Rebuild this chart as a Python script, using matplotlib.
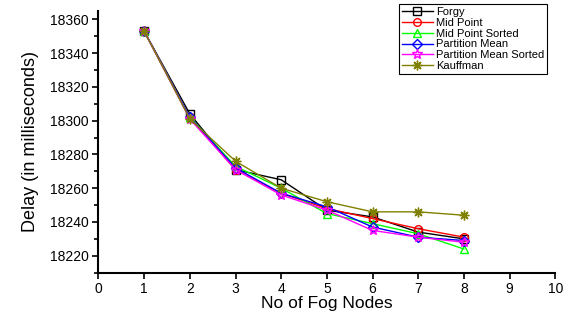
import matplotlib
matplotlib.use('Agg')
import matplotlib.pyplot as plt
from matplotlib.ticker import MultipleLocator

plt.rcParams['font.family'] = ['Liberation Sans', 'DejaVu Sans']

nodes = [1, 2, 3, 4, 5, 6, 7, 8]

forgy = [18353, 18304, 18271, 18265, 18247, 18243, 18234, 18230]
mid_point = [18353, 18302, 18271, 18257, 18248, 18242, 18236, 18231]
mid_point_sorted = [18353, 18302, 18273, 18260, 18245, 18239, 18233, 18224]
partition_mean = [18353, 18302, 18272, 18257, 18249, 18237, 18231, 18229]
partition_mean_sorted = [18353, 18301, 18271, 18256, 18247, 18235, 18231, 18228]
kauffman = [18353, 18301, 18276, 18260, 18252, 18246, 18246, 18244]

# name, values, colour, marker
series = [
    ('Forgy', forgy, 'black', 's'),
    ('Mid Point', mid_point, 'red', 'o'),
    ('Mid Point Sorted', mid_point_sorted, '#00ff00', '^'),
    ('Partition Mean', partition_mean, 'blue', 'D'),
    ('Partition Mean Sorted', partition_mean_sorted, 'magenta', '*'),
    ('Kauffman', kauffman, '#808000', (8, 2, 0)),
]

fig = plt.figure(figsize=(5.76, 3.23), dpi=100)
ax = fig.add_axes([0.171, 0.156, 0.793, 0.81])

for name, vals, col, mk in series:
    ms = 7 if mk == '*' or mk == (8, 2, 0) else 5.5
    if mk == 'D':
        ms = 5
    ax.plot(nodes, vals, color=col, marker=mk, markersize=ms, lw=1,
            markerfacecolor='none', markeredgecolor=col, markeredgewidth=1,
            label=name)

ax.set_xlim(0, 10)
ax.set_ylim(18210, 18365)
ax.xaxis.set_major_locator(MultipleLocator(1))
ax.yaxis.set_major_locator(MultipleLocator(20))
ax.yaxis.set_minor_locator(MultipleLocator(10))

ax.spines['top'].set_visible(False)
ax.spines['right'].set_visible(False)
ax.spines['left'].set_linewidth(1.5)
ax.spines['bottom'].set_linewidth(1.5)
ax.tick_params(axis='both', which='major', direction='out', length=4, width=1.2,
               labelsize=10, pad=3)
ax.tick_params(axis='y', which='minor', direction='out', length=3, width=1.2)

ax.set_xlabel('No of Fog Nodes', fontsize=12.5, labelpad=0)
ax.set_ylabel('Delay (in milliseconds)', fontsize=13, labelpad=8)

leg = ax.legend(loc='upper right', bbox_to_anchor=(547 / 576, 1 - 4 / 323),
                bbox_transform=fig.transFigure, borderaxespad=0,
                fontsize=8, fancybox=False, edgecolor='black', framealpha=1,
                handlelength=2.8, labelspacing=0.08, borderpad=0.25,
                handletextpad=0.3)
leg.get_frame().set_linewidth(0.8)

fig.savefig('out.png', dpi=100)
